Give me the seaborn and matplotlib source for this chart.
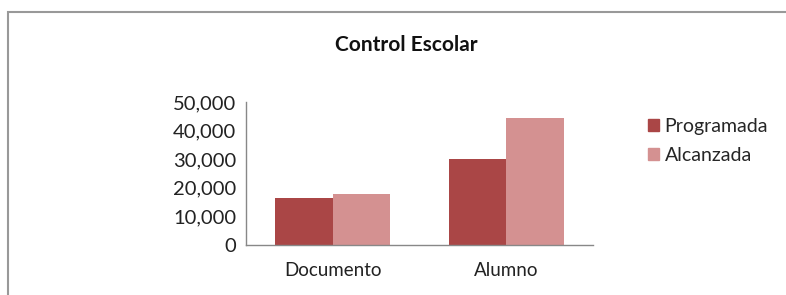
import matplotlib
matplotlib.use("Agg")
import matplotlib.pyplot as plt
import matplotlib.patches as mpatches
import matplotlib.ticker as mticker
import pandas as pd
import seaborn as sns

# Data
categorias = ["Documento", "Alumno"]
series = ["Programada", "Alcanzada"]
programada = [16600, 29900]
alcanzada = [17800, 44400]
colores = ["#AA4646", "#D49191"]

df = pd.DataFrame({
    "categoria": categorias * 2,
    "serie": [series[0]] * 2 + [series[1]] * 2,
    "valor": programada + alcanzada,
})

sns.set_style("white")
plt.rcParams["font.family"] = ["Lato", "DejaVu Sans"]

W, H = 786, 295
fig = plt.figure(figsize=(W / 100, H / 100), dpi=100)
ax = fig.add_axes([246 / W, 1 - 245 / H, (593 - 246) / W, (245 - 102) / H])

sns.barplot(data=df, x="categoria", y="valor", hue="serie",
            palette=colores, width=0.665, saturation=1, linewidth=0,
            ax=ax, legend=False)

ax.set_xlim(-0.5, 1.5)
ax.set_ylim(0, 50000)
ax.yaxis.set_major_locator(mticker.MultipleLocator(10000))
ax.yaxis.set_major_formatter(mticker.StrMethodFormatter("{x:,.0f}"))
ax.set_xlabel("")
ax.set_ylabel("")

# axis styling (Excel look)
for s in ["top", "right"]:
    ax.spines[s].set_visible(False)
for s in ["left", "bottom"]:
    ax.spines[s].set_color("#888888")
    ax.spines[s].set_linewidth(1)

ax.set_xticks([0, 1])
ax.set_xticks([-0.5, 0.5, 1.5], minor=True)
ax.tick_params(axis="x", which="major", length=0, labelsize=13.5, pad=12, colors="#222222")
ax.tick_params(axis="x", which="minor", length=5, width=1, color="#888888", direction="out")
ax.tick_params(axis="y", length=4, width=1, color="#888888", direction="out",
               labelsize=14.5, pad=3, labelcolor="#222222")

fig.text(406 / W, 1 - 45 / H, "Control Escolar", ha="center", va="center",
         fontsize=15, fontweight="bold", color="#111111")

handles = [mpatches.Patch(color=c, label=l) for c, l in zip(colores, series)]
fig.legend(handles=handles, loc="upper left", bbox_to_anchor=(648 / W, 1 - 118 / H),
           frameon=False, fontsize=14, handlelength=0.55, handleheight=0.55,
           handletextpad=0.3, labelspacing=0.6, borderaxespad=0, borderpad=0)

# outer chart frame
frame = mpatches.Rectangle((8 / W, -0.1), 1.2, 1 - 12 / H + 0.1,
                           transform=fig.transFigure, fill=False,
                           edgecolor="#999999", linewidth=1.5, clip_on=False)
fig.patches.append(frame)

fig.savefig("out.png", dpi=100)
